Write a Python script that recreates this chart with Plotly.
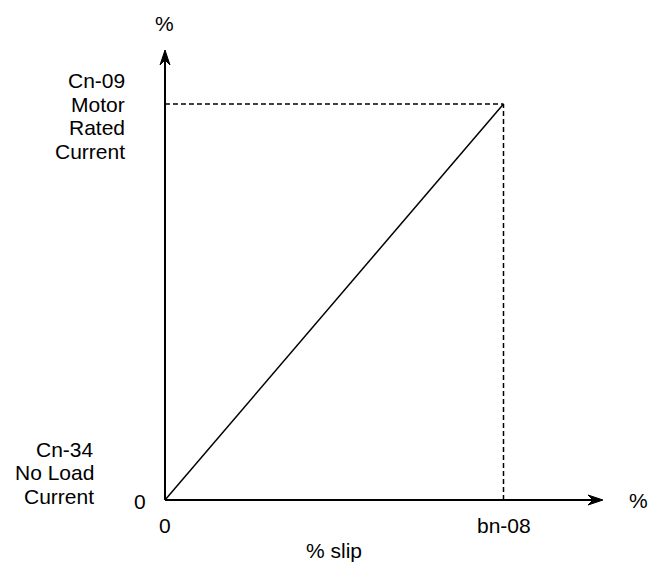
import plotly.graph_objects as go

# Slip compensation: current vs. % slip (linear from no-load to rated current)
slip = [0, 100]
current = [0, 100]
x_tick_vals = [0, 100]
x_tick_text = ["0", "bn-08"]
y_low_lines = ["Cn-34", "No Load", "Current"]
y_high_lines = ["Cn-09", "Motor", "Rated", "Current"]

W, H = 653, 564
FONT = dict(family="Liberation Sans, Arial, Helvetica, sans-serif", size=21, color="black")

# pixel placement of the axes frame
X0_PX, X1_PX = 165, 503.5   # x = 0 and x = 100
Y0_PX, Y1_PX = 500, 104     # y = 0 and y = 100
sx = (X1_PX - X0_PX) / 100
sy = (Y0_PX - Y1_PX) / 100
x_range = [-X0_PX / sx, (W - X0_PX) / sx]
y_range = [-(H - Y0_PX) / sy, Y0_PX / sy]

# axis extents (arrow tips)
X_AXIS_END = (603 - X0_PX) / sx
Y_AXIS_END = (Y0_PX - 50) / sy

fig = go.Figure()

# slip line
fig.add_trace(go.Scatter(x=slip, y=current, mode="lines",
                         line=dict(color="black", width=1.5),
                         hoverinfo="skip", showlegend=False))

shapes = []
# axes
shapes.append(dict(type="line", xref="x", yref="y", x0=0, y0=0, x1=X_AXIS_END - 2, y1=0,
                   line=dict(color="black", width=2)))
shapes.append(dict(type="line", xref="x", yref="y", x0=0, y0=0, x1=0, y1=Y_AXIS_END - 2,
                   line=dict(color="black", width=2)))
# arrowheads (pixel paths anchored at the axis tips)
shapes.append(dict(type="path", xref="x", yref="y", xsizemode="pixel", ysizemode="pixel",
                   xanchor=X_AXIS_END, yanchor=0,
                   path="M 0,0 L -15,5 L -10,0 L -15,-5 Z",
                   fillcolor="black", line=dict(color="black", width=1)))
shapes.append(dict(type="path", xref="x", yref="y", xsizemode="pixel", ysizemode="pixel",
                   xanchor=0, yanchor=Y_AXIS_END,
                   path="M 0,0 L -5,-15 L 0,-10 L 5,-15 Z",
                   fillcolor="black", line=dict(color="black", width=1)))
# dashed guides to the rated point
shapes.append(dict(type="line", xref="x", yref="y", x0=0, y0=current[-1], x1=slip[-1], y1=current[-1],
                   line=dict(color="black", width=1.5, dash="5px,3px")))
shapes.append(dict(type="line", xref="x", yref="y", x0=slip[-1], y0=0, x1=slip[-1], y1=current[-1],
                   line=dict(color="black", width=1.5, dash="5px,3px")))

ann = []
def label(text, x, y, xanchor="center", xshift=0, yshift=0):
    ann.append(dict(text=text, x=x, y=y, xref="x", yref="y", showarrow=False,
                    xanchor=xanchor, yanchor="middle", xshift=xshift, yshift=yshift,
                    font=FONT))

# x tick labels
for v, t in zip(x_tick_vals, x_tick_text):
    label(t, v, 0, yshift=-25)
# y zero label
label("0", 0, 0, xshift=-25, yshift=-1)
# axis unit labels
label("%", 0, Y_AXIS_END, xshift=-1, yshift=27)
label("%", X_AXIS_END, 0, xshift=35, yshift=0)
label("% slip", slip[-1] / 2, 0, yshift=-50)

# lower-left description (ends at the zero level)
line_h = 23.5
for i, t in enumerate(y_low_lines):
    label(t, 0, 0, xanchor="right", xshift=-69,
          yshift=4 + (len(y_low_lines) - 1 - i) * line_h)
# upper description (second line level with the rated current)
for i, t in enumerate(y_high_lines):
    label(t, 0, current[-1], xanchor="right", xshift=-38,
          yshift=(1 - i) * line_h)

fig.update_layout(
    width=W, height=H,
    margin=dict(l=0, r=0, t=0, b=0),
    paper_bgcolor="white", plot_bgcolor="white",
    xaxis=dict(range=x_range, visible=False, fixedrange=True),
    yaxis=dict(range=y_range, visible=False, fixedrange=True),
    shapes=shapes, annotations=ann, showlegend=False,
)

fig.write_html("out.html")
